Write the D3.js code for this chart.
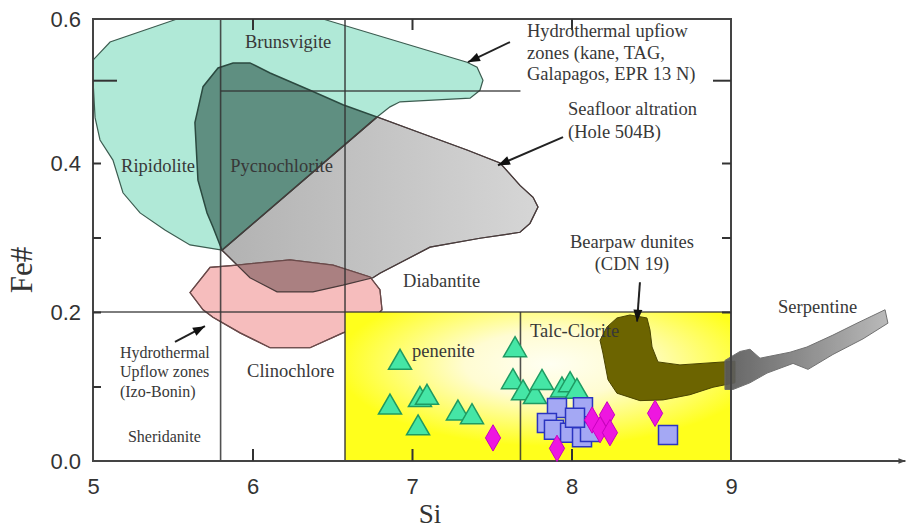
<!DOCTYPE html>
<html>
<head>
<meta charset="utf-8">
<script src="https://cdn.jsdelivr.net/npm/d3@7"></script>
<style>
body { margin: 0; background: #fff; }
svg { display: block; }
</style>
</head>
<body>
<div id="chart"></div>
<script>
"use strict"
// axis ticks
var xTickLabels = [5, 6, 7, 8, 9];
var xInnerTicks = [6, 7, 8];
var yTickLabels = [0, 0.2, 0.4, 0.6];
var yLeftTicks = [0.1, 0.2, 0.3, 0.4];
var yRightTicks = [0.2, 0.3, 0.4];
var yLongTicks = [0.515];

// classification boundaries: [Si, Fe# from, Fe# to] and [Fe#, Si from, Si to]
var vLines = [[5.8, 0, 0.6], [6.58, 0, 0.6], [7.68, 0, 0.2]];
var hLines = [[0.5, 5.8, 7.68], [0.2, 5, 9]];
var talcBox = [6.58, 9, 0, 0.2];

// fields, [Si, Fe#]
var kaneZone = [[5.000,0.543],[5.107,0.568],[5.527,0.600],[6.442,0.600],[7.345,0.540],[7.408,0.533],[7.445,0.515],[7.426,0.501],[7.364,0.490],[6.925,0.485],[6.862,0.478],[6.781,0.464],[5.809,0.283],[5.608,0.290],[5.451,0.310],[5.295,0.333],[5.188,0.360],[5.125,0.404],[5.044,0.432],[5.013,0.463],[5.000,0.515]];
var pycnoZone = [[5.809,0.283],[5.752,0.314],[5.715,0.333],[5.658,0.377],[5.639,0.456],[5.690,0.506],[5.784,0.532],[5.878,0.539],[5.984,0.539],[6.110,0.525],[6.361,0.501],[6.567,0.481],[6.781,0.464]];
var seafloorZone = [[5.809,0.283],[6.781,0.464],[7.050,0.442],[7.345,0.418],[7.552,0.400],[7.677,0.370],[7.759,0.354],[7.790,0.341],[7.740,0.319],[7.677,0.307],[7.426,0.299],[7.113,0.287],[6.799,0.252],[6.755,0.246],[6.567,0.236],[6.379,0.227],[6.154,0.227],[5.984,0.246]];
var izoZone = [[5.608,0.226],[5.734,0.260],[5.903,0.263],[6.235,0.270],[6.505,0.263],[6.737,0.247],[6.799,0.230],[6.812,0.203],[6.737,0.185],[6.567,0.172],[6.361,0.152],[6.110,0.152],[5.922,0.172],[5.752,0.193],[5.690,0.203]];
var bearpawZone = [[8.285,0.192],[8.367,0.196],[8.473,0.192],[8.492,0.176],[8.505,0.153],[8.542,0.133],[8.680,0.129],[9.025,0.134],[9.025,0.105],[8.887,0.099],[8.743,0.089],[8.574,0.082],[8.429,0.081],[8.285,0.091],[8.229,0.109],[8.197,0.145],[8.179,0.162],[8.223,0.180]];
var serpentineZone = [[8.962,0.135],[9.056,0.147],[9.119,0.150],[9.182,0.138],[9.370,0.146],[9.476,0.153],[9.639,0.169],[9.790,0.185],[9.966,0.203],[9.984,0.185],[9.828,0.164],[9.639,0.143],[9.483,0.123],[9.389,0.131],[9.226,0.118],[9.119,0.105],[9.013,0.096],[8.962,0.096]];

// samples, [Si, Fe#]
var triangles = [[6.925,0.132],[6.862,0.072],[7.050,0.082],[7.094,0.085],[7.038,0.044],[7.288,0.064],[7.376,0.059],[7.646,0.149],[7.633,0.106],[7.696,0.091],[7.771,0.086],[7.815,0.105],[7.940,0.095],[7.991,0.102],[8.034,0.093]];
var squares = [[7.909,0.071],[8.072,0.072],[7.846,0.051],[7.890,0.042],[7.991,0.038],[8.066,0.032],[8.116,0.039],[8.022,0.058],[8.605,0.035]];
var diamonds = [[7.508,0.031],[7.909,0.017],[8.129,0.055],[8.179,0.042],[8.223,0.062],[8.241,0.038],[8.524,0.064]];

// annotations
var arrows = [[7.614,0.568,7.351,0.540],[7.947,0.436,7.539,0.397],[5.514,0.160,5.702,0.181],[8.429,0.240,8.411,0.187]];
var labels = [
    {t: "Brunsvigite", si: 5.953, fe: 0.560},
    {t: "Hydrothermal upfiow", si: 7.721, fe: 0.575},
    {t: "zones (kane, TAG,", si: 7.721, fe: 0.545},
    {t: "Galapagos, EPR 13 N)", si: 7.721, fe: 0.515},
    {t: "Seafloor altration", si: 7.978, fe: 0.467},
    {t: "(Hole 504B)", si: 7.978, fe: 0.435},
    {t: "Ripidolite", si: 5.176, fe: 0.388},
    {t: "Pycnochlorite", si: 5.860, fe: 0.388},
    {t: "Diabantite", si: 6.944, fe: 0.234},
    {t: "Bearpaw dunites", si: 8.379, fe: 0.286, mid: true},
    {t: "(CDN 19)", si: 8.379, fe: 0.256, mid: true},
    {t: "Serpentine", si: 9.295, fe: 0.199},
    {t: "Talc-Clorite", si: 7.740, fe: 0.166},
    {t: "penenite", si: 7.000, fe: 0.140},
    {t: "Clinochlore", si: 5.966, fe: 0.113},
    {t: "Hydrothermal", si: 5.169, fe: 0.138, small: true},
    {t: "Upflow zones", si: 5.169, fe: 0.113, small: true},
    {t: "(Izo-Bonin)", si: 5.169, fe: 0.086, small: true},
    {t: "Sheridanite", si: 5.219, fe: 0.026, small: true}
];

function drawChart() {
    var fullWidth = 908;
    var fullHeight = 530;
    var serif = "'Liberation Serif', 'Times New Roman', serif";
    var sans = "'Liberation Sans', Arial, sans-serif";

    var svg = d3.select("#chart").append("svg").attr("width", fullWidth).attr("height", fullHeight);
    svg.append("rect").attr("width", fullWidth).attr("height", fullHeight).attr("fill", "#fff");

    var x = d3.scaleLinear().domain([5, 9]).range([93, 731]);
    var y = d3.scaleLinear().domain([0, 0.2, 0.4, 0.6]).range([461, 312, 163, 19]);

    var defs = svg.append("defs");
    var gGray = defs.append("linearGradient").attr("id", "gGray");
    gGray.append("stop").attr("offset", "0%").attr("stop-color", "#b2b2b2");
    gGray.append("stop").attr("offset", "100%").attr("stop-color", "#d6d6d6");
    var gSerp = defs.append("linearGradient").attr("id", "gSerp");
    gSerp.append("stop").attr("offset", "0%").attr("stop-color", "#585858");
    gSerp.append("stop").attr("offset", "100%").attr("stop-color", "#b4b4b4");
    var gYellow = defs.append("radialGradient").attr("id", "gYellow")
        .attr("cx", 0.53).attr("cy", 0.35).attr("r", 0.55);
    gYellow.append("stop").attr("offset", "0%").attr("stop-color", "#fffff2");
    gYellow.append("stop").attr("offset", "40%").attr("stop-color", "#fffcd2");
    gYellow.append("stop").attr("offset", "100%").attr("stop-color", "#ffff1c");
    defs.append("marker").attr("id", "head")
        .attr("viewBox", "0 -5 12 10").attr("refX", 12).attr("refY", 0)
        .attr("markerUnits", "userSpaceOnUse").attr("markerWidth", 13).attr("markerHeight", 10)
        .attr("orient", "auto")
        .append("path").attr("d", "M0,-4.5L12,0L0,4.5Z").attr("fill", "#111");
    defs.append("marker").attr("id", "axisHead")
        .attr("viewBox", "0 -5 10 10").attr("refX", 10).attr("refY", 0)
        .attr("markerUnits", "userSpaceOnUse").attr("markerWidth", 7).attr("markerHeight", 7)
        .attr("orient", "auto")
        .append("path").attr("d", "M0,-4L10,0L0,4Z").attr("fill", "#444");

    var area = d3.line()
        .x(function(d) { return x(d[0]); })
        .y(function(d) { return y(d[1]); })
        .curve(d3.curveLinearClosed);

    defs.append("clipPath").attr("id", "seafloorClip").append("path").attr("d", area(seafloorZone));

    var fields = svg.append("g");
    fields.append("path").attr("d", area(kaneZone)).attr("fill", "#b0e9d7").attr("stroke", "#3c5c50").attr("stroke-width", 1.2);
    fields.append("path").attr("d", area(seafloorZone)).attr("fill", "url(#gGray)").attr("stroke", "#555").attr("stroke-width", 1.2);
    fields.append("path").attr("d", area(pycnoZone)).attr("fill", "#5f8f81").attr("stroke", "#2b4a40").attr("stroke-width", 1.5);
    fields.append("path").attr("d", area(izoZone)).attr("fill", "#f6bdbd").attr("stroke", "#6a4a4a").attr("stroke-width", 1.2);
    fields.append("path").attr("d", area(izoZone)).attr("fill", "#aa8081").attr("clip-path", "url(#seafloorClip)");
    fields.append("path").attr("d", area(seafloorZone)).attr("fill", "none").attr("stroke", "#4a3a3a").attr("stroke-width", 1.2);
    fields.append("path").attr("d", area(izoZone)).attr("fill", "none").attr("stroke", "#6a4a4a").attr("stroke-width", 1.2);

    fields.append("rect")
        .attr("x", x(talcBox[0])).attr("y", y(talcBox[3]))
        .attr("width", x(talcBox[1]) - x(talcBox[0])).attr("height", y(talcBox[2]) - y(talcBox[3]))
        .attr("fill", "url(#gYellow)");
    fields.append("path").attr("d", area(bearpawZone)).attr("fill", "#6c6400").attr("stroke", "#4a4400").attr("stroke-width", 1);
    fields.append("path").attr("d", area(serpentineZone)).attr("fill", "url(#gSerp)").attr("opacity", 0.92).attr("stroke", "#666").attr("stroke-width", 1);

    // boundaries
    var lines = svg.append("g").attr("stroke", "#333").attr("stroke-width", 1.6).attr("stroke-opacity", 0.85);
    lines.selectAll(".v").data(vLines).enter().append("line")
        .attr("x1", function(d) { return x(d[0]); }).attr("x2", function(d) { return x(d[0]); })
        .attr("y1", function(d) { return y(d[1]); }).attr("y2", function(d) { return y(d[2]); });
    lines.selectAll(".h").data(hLines).enter().append("line")
        .attr("y1", function(d) { return y(d[0]); }).attr("y2", function(d) { return y(d[0]); })
        .attr("x1", function(d) { return x(d[1]); }).attr("x2", function(d) { return x(d[2]); });

    // frame
    var frame = svg.append("g").attr("stroke", "#444").attr("stroke-width", 2).attr("fill", "none");
    frame.append("rect").attr("x", x(5)).attr("y", y(0.6)).attr("width", x(9) - x(5)).attr("height", y(0) - y(0.6));
    frame.append("line").attr("x1", x(9)).attr("x2", x(10.1) - 1).attr("y1", y(0)).attr("y2", y(0))
        .attr("marker-end", "url(#axisHead)");

    // inner ticks
    svg.append("g").attr("transform", "translate(0," + y(0) + ")")
        .call(d3.axisBottom(x).tickValues(xInnerTicks).tickSize(-12).tickFormat(""));
    svg.append("g").attr("transform", "translate(0," + y(0.6) + ")")
        .call(d3.axisTop(x).tickValues(xInnerTicks).tickSize(-11).tickFormat(""));
    svg.append("g").attr("transform", "translate(" + x(5) + ",0)")
        .call(d3.axisLeft(y).tickValues(yLeftTicks).tickSize(-8).tickFormat(""));
    svg.append("g").attr("transform", "translate(" + x(9) + ",0)")
        .call(d3.axisRight(y).tickValues(yRightTicks).tickSize(-9).tickFormat(""));
    svg.append("g").attr("transform", "translate(" + x(5) + ",0)")
        .call(d3.axisLeft(y).tickValues(yLongTicks).tickSize(-24).tickFormat(""));
    svg.append("g").attr("transform", "translate(" + x(9) + ",0)")
        .call(d3.axisRight(y).tickValues(yLongTicks).tickSize(-18).tickFormat(""));
    svg.selectAll(".domain").remove();
    svg.selectAll(".tick line").attr("stroke", "#333").attr("stroke-width", 2);

    // tick labels
    var xl = svg.append("g").attr("transform", "translate(0," + y(0) + ")")
        .call(d3.axisBottom(x).tickValues(xTickLabels).tickSize(0).tickPadding(17).tickFormat(d3.format("d")));
    var yl = svg.append("g").attr("transform", "translate(" + x(5) + ",0)")
        .call(d3.axisLeft(y).tickValues(yTickLabels).tickSize(0).tickPadding(12).tickFormat(d3.format(".1f")));
    xl.select(".domain").remove();
    yl.select(".domain").remove();
    svg.selectAll("text").attr("font-family", sans).attr("font-size", 22).attr("fill", "#333");

    // samples
    var marks = svg.append("g");
    marks.selectAll(".tri").data(triangles).enter().append("path")
        .attr("d", d3.symbol().type(d3.symbolTriangle).size(230))
        .attr("transform", function(d) { return "translate(" + x(d[0]) + "," + y(d[1]) + ")"; })
        .attr("fill", "#45e6a6").attr("stroke", "#1f9a62").attr("stroke-width", 1.5);
    marks.selectAll(".sq").data(squares).enter().append("path")
        .attr("d", d3.symbol().type(d3.symbolSquare).size(361))
        .attr("transform", function(d) { return "translate(" + x(d[0]) + "," + y(d[1]) + ")"; })
        .attr("fill", "#a4a8f4").attr("stroke", "#2a34c0").attr("stroke-width", 1.5);
    marks.selectAll(".dia").data(diamonds).enter().append("path")
        .attr("d", d3.symbol().type(d3.symbolDiamond).size(200))
        .attr("transform", function(d) { return "translate(" + x(d[0]) + "," + y(d[1]) + ")"; })
        .attr("fill", "#ee16e0").attr("stroke", "#c800c0").attr("stroke-width", 1);

    // arrows
    svg.append("g").selectAll("line").data(arrows).enter().append("line")
        .attr("x1", function(d) { return x(d[0]); }).attr("y1", function(d) { return y(d[1]); })
        .attr("x2", function(d) { return x(d[2]); }).attr("y2", function(d) { return y(d[3]); })
        .attr("stroke", "#222").attr("stroke-width", 2).attr("marker-end", "url(#head)");

    // field labels
    svg.append("g").selectAll("text").data(labels).enter().append("text")
        .attr("x", function(d) { return x(d.si); })
        .attr("y", function(d) { return y(d.fe); })
        .attr("text-anchor", function(d) { return d.mid ? "middle" : "start"; })
        .attr("font-family", serif)
        .attr("font-size", function(d) { return d.small ? 16 : 18.5; })
        .attr("fill", "#383838")
        .text(function(d) { return d.t; });

    // axis titles
    svg.append("text").attr("transform", "translate(32,270) rotate(-90)")
        .attr("text-anchor", "middle").attr("font-family", serif).attr("font-size", 31).attr("fill", "#333")
        .text("Fe#");
    svg.append("text").attr("x", 430).attr("y", 523)
        .attr("text-anchor", "middle").attr("font-family", serif).attr("font-size", 27).attr("fill", "#333")
        .text("Si");
}

window.onload = drawChart;
</script>
</body>
</html>
